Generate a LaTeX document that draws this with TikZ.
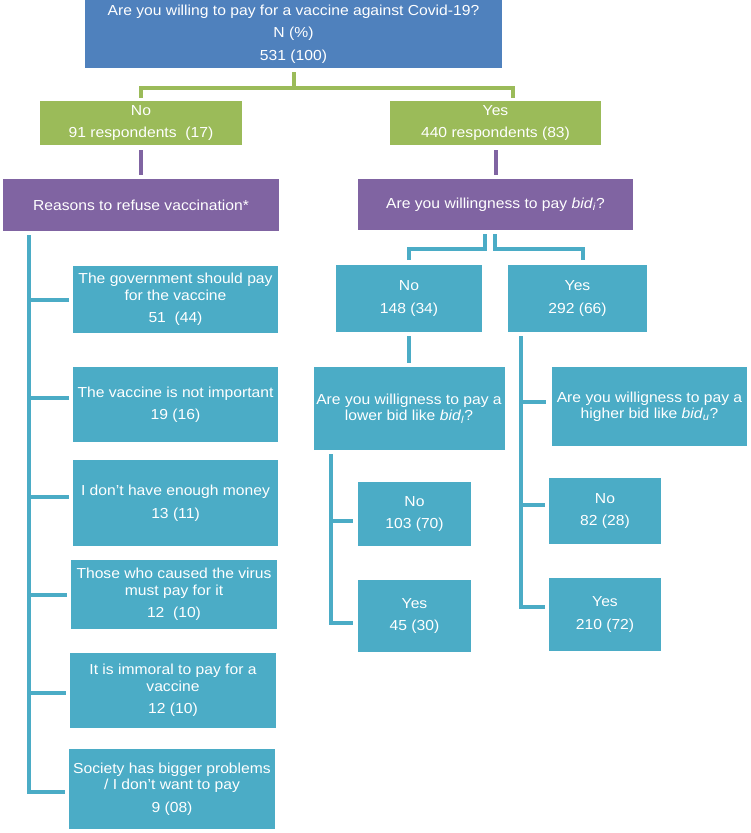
\documentclass[tikz,border=0pt]{standalone}
\usepackage{fontspec}
\setmainfont{Liberation Sans}[FakeStretch=1.08]
\definecolor{qblue}{HTML}{4F81BD}
\definecolor{agreen}{HTML}{9BBB59}
\definecolor{hpurple}{HTML}{8064A2}
\definecolor{lcyan}{HTML}{4BACC6}
\tikzset{
	box/.style={rectangle, inner sep=0pt, text=white, align=center, font=\fontsize{14.5}{16.5}\selectfont},
	bluebox/.style={box, fill=qblue},
	greenbox/.style={box, fill=agreen},
	purplebox/.style={box, fill=hpurple},
	cyanbox/.style={box, fill=lcyan},
	link/.style={line width=4pt},
	gline/.style={link, draw=agreen},
	pline/.style={link, draw=hpurple},
	cline/.style={link, draw=lcyan}
}
\begin{document}
\begin{tikzpicture}[x=1pt, y=-1pt]
	\useasboundingbox (0,0) rectangle (751,833);
	\node[bluebox, minimum width=417, minimum height=68] (top) at (293.5,34) {Are you willing to pay for a vaccine against Covid-19?\\[6pt]N (\%)\\[6pt]531 (100)};
	\node[greenbox, minimum width=202, minimum height=44] (noG) at (141,123) {No\\[6pt]91 respondents\ \ (17)};
	\node[greenbox, minimum width=211, minimum height=44] (yesG) at (495.5,123) {Yes\\[6pt]440 respondents (83)};
	\node[purplebox, minimum width=276, minimum height=52] (whyP) at (141,205) {Reasons to refuse vaccination*};
	\node[purplebox, minimum width=275, minimum height=51] (bidP) at (495.5,204.5) {Are you willingness to pay \textit{bid}\textsubscript{\textit{i}}?};
	\node[cyanbox, minimum width=146, minimum height=67] (no148) at (409,298.5) {No\\[6pt]148 (34)};
	\node[cyanbox, minimum width=139, minimum height=67] (yes292) at (577.5,298.5) {Yes\\[6pt]292 (66)};
	\node[cyanbox, minimum width=191, minimum height=83] (lowQ) at (409,408.5) {Are you willigness to pay a\\lower bid like \textit{bid}\textsubscript{\textit{l}}?};
	\node[cyanbox, minimum width=195, minimum height=79] (highQ) at (649.5,406.5) {Are you willigness to pay a\\higher bid like \textit{bid}\textsubscript{\textit{u}}?};
	\node[cyanbox, minimum width=113, minimum height=64] (no103) at (414.5,514) {No\\[6pt]103 (70)};
	\node[cyanbox, minimum width=113, minimum height=72] (yes45) at (414.5,616) {Yes\\[6pt]45 (30)};
	\node[cyanbox, minimum width=112, minimum height=66] (no82) at (605,511) {No\\[6pt]82 (28)};
	\node[cyanbox, minimum width=112, minimum height=73] (yes210) at (605,614.5) {Yes\\[6pt]210 (72)};
	\node[cyanbox, minimum width=205, minimum height=67] (r1) at (175.5,299.5) {The government should pay\\for the vaccine\\[6pt]51\ \ (44)};
	\node[cyanbox, minimum width=205, minimum height=75] (r2) at (175.5,404.5) {The vaccine is not important\\[6pt]19 (16)};
	\node[cyanbox, minimum width=205, minimum height=86] (r3) at (175.5,503) {I don{\char"27}t have enough money\\[6pt]13 (11)};
	\node[cyanbox, minimum width=206, minimum height=69] (r4) at (174,594.5) {Those who caused the virus\\must pay for it\\[6pt]12\ \ (10)};
	\node[cyanbox, minimum width=206, minimum height=75] (r5) at (173,690.5) {It is immoral to pay for a\\vaccine\\[6pt]12 (10)};
	\node[cyanbox, minimum width=206, minimum height=80] (r6) at (172,789) {Society has bigger problems\\/ I don’t want to pay\\[6pt]9 (08)};
	\coordinate (gbar) at (293.5,88);
	\draw[gline] ([yshift=-4pt]top.south) -- (gbar) -| ([yshift=3pt]noG.north);
	\draw[gline] (gbar) -| ([xshift=17.5pt,yshift=3pt]yesG.north);
	\draw[pline] ([yshift=-5pt]noG.south) -- ([yshift=4pt]whyP.north);
	\draw[pline] ([yshift=-5pt]yesG.south) -- ([yshift=4pt]bidP.north);
	\draw[cline] ([xshift=-10.5pt,yshift=-4pt]bidP.south) |- ([yshift=16pt]no148.north) -- ([yshift=5pt]no148.north);
	\draw[cline] ([xshift=-0.5pt,yshift=-4pt]bidP.south) |- ([xshift=5.5pt,yshift=16pt]yes292.north) -- ([xshift=5.5pt,yshift=5pt]yes292.north);
	\draw[cline] ([yshift=-4pt]no148.south) -- ([yshift=4pt]lowQ.north);
	\coordinate (ytrunk) at ([xshift=13pt,yshift=-4pt]yes292.south west);
	\foreach \n/\dx/\dy in {highQ/6/4.5, no82/4/6, yes210/4/7.5}
		\draw[cline] ([xshift=-\dx pt,yshift=\dy pt]\n.west) -| (ytrunk);
	\coordinate (ltrunk) at ([xshift=18pt,yshift=-4pt]lowQ.south west);
	\foreach \n in {no103, yes45}
		\draw[cline] ([xshift=-5pt,yshift=-7pt]\n.west) -| (ltrunk);
	\coordinate (rtrunk) at ([xshift=26pt,yshift=-4pt]whyP.south west);
	\foreach \n/\dy in {r1/0, r2/6.5, r3/6, r4/0, r5/-2.5, r6/-3}
		\draw[cline] ([xshift=-4pt,yshift=\dy pt]\n.west) -| (rtrunk);
\end{tikzpicture}
\end{document}
